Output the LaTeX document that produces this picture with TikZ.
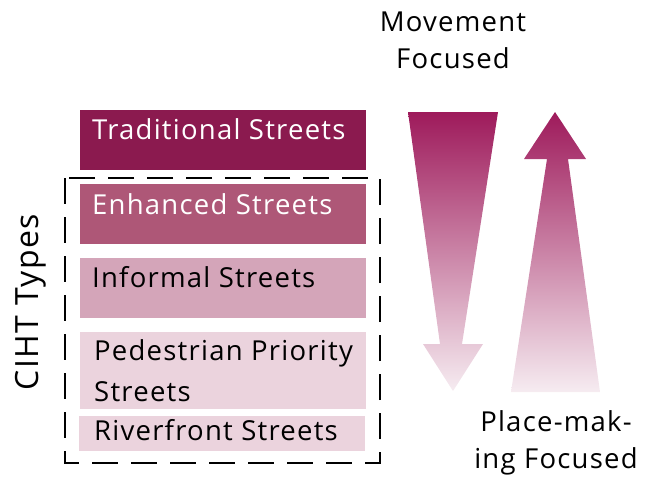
\documentclass[tikz,border=0pt]{standalone}
\usepackage{fontspec}
\setmainfont{Open Sans}[LetterSpace=4.5]
\usetikzlibrary{positioning}
\definecolor{cTrad}{HTML}{8B1A4F}
\definecolor{cEnh}{HTML}{AE5777}
\definecolor{cInf}{HTML}{D4A5B9}
\definecolor{cPed}{HTML}{EBD3DD}
\definecolor{cTop}{HTML}{9E1A5B}
\definecolor{cBot}{HTML}{F6ECF1}
\begin{document}
\begin{tikzpicture}[x=1pt,y=-1pt,
  box/.style={anchor=north west,inner sep=0pt,outer sep=0pt},
  lbl/.style={anchor=base west,inner sep=0pt,font=\fontsize{27.5}{41}\selectfont},
  captxt/.style={align=center,inner sep=0pt,font=\fontsize{27.5}{37}\selectfont}]
\useasboundingbox (0,0) rectangle (655,479);
% boxes
\node[box,fill=cTrad,minimum width=286pt,minimum height=60pt] (trad) at (80,110) {};
\node[box,fill=cEnh,minimum width=286pt,minimum height=60pt] (enh) at (80,184) {};
\node[box,fill=cInf,minimum width=286pt,minimum height=60pt] (inf) at (80,258) {};
\node[box,fill=cPed,minimum width=286pt,minimum height=77pt] (ped) at (80,332) {};
\node[box,fill=cPed,minimum width=286pt,minimum height=35pt] (riv) at (79,416) {};
% texts
\node[lbl,text=white] (tTrad) at (92,139) {Traditional Streets};
\node[lbl,text=white] (tEnh) at (92,214) {Enhanced Streets};
\node[lbl,text=black] (tInf) at (92,287.5) {Informal Streets};
\node[lbl,text=black] (tPed) at (94,360) {Pedestrian Priority};
\node[lbl,text=black] (tPed2) at (94,401) {Streets};
\node[lbl,text=black] (tRiv) at (94,440) {Riverfront Streets};
% dashed group
\draw[line width=2.5pt,dash pattern=on 26pt off 13pt] (65,178) rectangle (380,463);
\node[rotate=90,inner sep=0pt,font=\fontsize{32}{36}\selectfont] (ciht) at (31,302) {CIHT Types};
% arrows
\shade[top color=cTop,bottom color=cBot] (408,112) -- (498,112) -- (462,344) -- (483,344) -- (453,391) -- (423,344) -- (440,344) -- cycle;
\shade[top color=cTop,bottom color=cBot] (555,112) -- (586,159) -- (568,159) -- (600,392) -- (511,392) -- (547,159) -- (524,159) -- cycle;
% captions
\node[captxt] (mov) at (453,40) {Movement\\Focused};
\node[captxt] (place) at (556,443) {Place-mak-\\ing Focused};
\end{tikzpicture}
\end{document}
